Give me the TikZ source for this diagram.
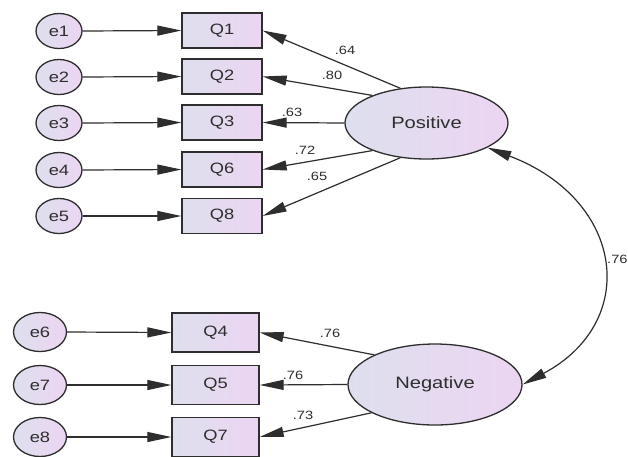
\documentclass[tikz,border=0pt]{standalone}
\usepackage{fontspec}
\setmainfont{Liberation Sans}[FakeStretch=1.22]
\usetikzlibrary{arrows.meta,shapes.geometric}
\definecolor{ink}{HTML}{2E2E2E}
\definecolor{fillL}{HTML}{DEDFEE}
\definecolor{fillR}{HTML}{ECD5F2}
\tikzset{
  base/.style={draw=ink, line width=1.3pt, left color=fillL, right color=fillR, inner sep=0pt, text=ink},
  errvar/.style={base, ellipse, minimum width=46pt, minimum height=35pt, font=\fontsize{15}{15}\selectfont},
  errvarB/.style={errvar, minimum width=53pt, minimum height=39pt},
  obs/.style={base, rectangle, minimum width=80pt, minimum height=35pt, font=\fontsize{15}{15}\selectfont},
  obsB/.style={obs, minimum width=87pt, minimum height=39pt},
  latent/.style={base, ellipse, font=\fontsize{16.5}{16.5}\selectfont},
  path/.style={draw=ink, line width=1.2pt, -{Triangle[length=24pt,width=10pt]}},
  coef/.style={text=ink, inner sep=0pt, font=\fontsize{12}{12}\selectfont}
}
\begin{document}
\begin{tikzpicture}[x=1pt,y=-1pt]
\useasboundingbox[fill=white] (0,0) rectangle (628,456);

% error terms
\node[errvar] (e1) at (59,31) {e1};
\node[errvar] (e2) at (59,77) {e2};
\node[errvar] (e3) at (59,123) {e3};
\node[errvar] (e4) at (59,170) {e4};
\node[errvar] (e5) at (59,216) {e5};
\node[errvarB] (e6) at (40,332) {e6};
\node[errvarB] (e7) at (40,385) {e7};
\node[errvarB] (e8) at (40,437) {e8};

% observed items
\node[obs] (Q1) at (222,30.5) {Q1};
\node[obs] (Q2) at (222,76.5) {Q2};
\node[obs] (Q3) at (222,122.5) {Q3};
\node[obs] (Q6) at (222,169.5) {Q6};
\node[obs] (Q8) at (222,216) {Q8};
\node[obsB] (Q4) at (215.5,332.5) {Q4};
\node[obsB] (Q5) at (215.5,385) {Q5};
\node[obsB] (Q7) at (215.5,437) {Q7};

% latent factors
\node[latent, minimum width=163pt, minimum height=72pt] (pos) at (426.5,123) {Positive};
\node[latent, minimum width=174pt, minimum height=81pt] (neg) at (435,384.5) {Negative};

% error paths
\foreach \e/\q in {e1/Q1,e2/Q2,e3/Q3,e4/Q6,e5/Q8,e6/Q4,e7/Q5,e8/Q7}
  \draw[path] (\e.east) -- (\q.west);

% loadings
\draw[path] (pos.127) -- (Q1.east);
\draw[path] (pos.153) -- (Q2.east);
\draw[path] (pos.180) -- (Q3.east);
\draw[path] (pos.207) -- (Q6.east);
\draw[path] (pos.233) -- (Q8.east);
\draw[path] (neg.154) -- (Q4.east);
\draw[path] (neg.180) -- (Q5.east);
\draw[path] (neg.204) -- (Q7.east);

% factor covariance
\draw[draw=ink, line width=1.2pt, {Triangle[length=24pt,width=10pt]}-{Triangle[length=24pt,width=10pt]}]
  (pos.-22) .. controls (625,200) and (640,322) .. (neg.east);

% coefficients
\node[coef] (c1) at (345,50) {.64};
\node[coef] (c2) at (332,75) {.80};
\node[coef] (c3) at (292,112) {.63};
\node[coef] (c4) at (305,150) {.72};
\node[coef] (c5) at (317,176) {.65};
\node[coef] (c6) at (330,333) {.76};
\node[coef] (c7) at (293,375) {.76};
\node[coef] (c8) at (303,415) {.73};
\node[coef, anchor=west] (c9) at (607,259) {.76};
\end{tikzpicture}
\end{document}
